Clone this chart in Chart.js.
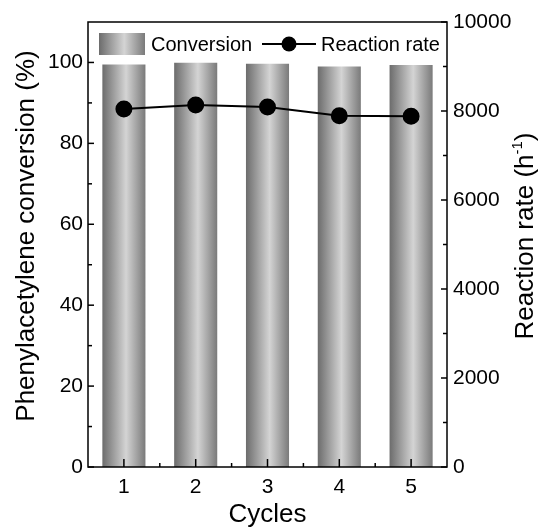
<!DOCTYPE html>
<html>
<head>
<meta charset="utf-8">
<script src="https://cdn.jsdelivr.net/npm/chart.js@4.4.0/dist/chart.umd.min.js"></script>
<style>
html, body { margin: 0; padding: 0; background: #fff; }
#wrap { width: 541px; height: 530px; }
</style>
</head>
<body>
<div id="wrap"><canvas id="chart" width="541" height="530"></canvas></div>
<script>
// ==================== DATA ====================

const cycles = ['1', '2', '3', '4', '5'];
const conversion = [99.5, 99.9, 99.7, 99.0, 99.4];
const reactionRate = [8045, 8135, 8090, 7895, 7880];
const leftTicks = [0, 20, 40, 60, 80, 100];
const rightTicks = [0, 2000, 4000, 6000, 8000, 10000];

const FONT = '"Liberation Sans", Arial, sans-serif';
const TICK_SIZE = 21;
const LEGEND_SIZE = 20;
const TITLE_SIZE = 26;

// ==================== HELPERS ====================

function makeGradient(ctx, x0, x1) {
    const g = ctx.createLinearGradient(x0, 0, x1, 0);
    g.addColorStop(0, '#6c6c6c');
    g.addColorStop(0.55, '#d4d4d4');
    g.addColorStop(1, '#7a7a7a');
    return g;
}

function barGradient(context) {
    const chart = context.chart;
    const xs = chart.scales.x;
    if (!xs || context.dataIndex === undefined) return '#a8a8a8';
    const cx = xs.getPixelForValue(context.dataIndex);
    const w = (xs.right - xs.left) / cycles.length * 0.6;
    if (!isFinite(cx) || !isFinite(w) || w <= 0) return '#a8a8a8';
    return makeGradient(chart.ctx, cx - w / 2, cx + w / 2);
}

function seg(ctx, x1, y1, x2, y2) {
    ctx.beginPath();
    ctx.moveTo(x1, y1);
    ctx.lineTo(x2, y2);
    ctx.stroke();
}

// frame + inward tick marks
const frameAndTicks = {
    id: 'frameAndTicks',
    afterDatasetsDraw(chart) {
        const { ctx, chartArea: a, scales } = chart;
        ctx.save();
        ctx.strokeStyle = '#000';
        ctx.lineWidth = 1.5;
        ctx.strokeRect(a.left, a.top, a.right - a.left, a.bottom - a.top);

        // left axis
        leftTicks.forEach((v, i) => {
            const y = scales.y.getPixelForValue(v);
            seg(ctx, a.left, y, a.left + 6, y);
            if (i < leftTicks.length - 1) {
                const ym = scales.y.getPixelForValue((v + leftTicks[i + 1]) / 2);
                seg(ctx, a.left, ym, a.left + 4, ym);
            }
        });

        // right axis
        rightTicks.forEach((v, i) => {
            const y = scales.y2.getPixelForValue(v);
            seg(ctx, a.right - 6, y, a.right, y);
            if (i < rightTicks.length - 1) {
                const ym = scales.y2.getPixelForValue((v + rightTicks[i + 1]) / 2);
                seg(ctx, a.right - 4, ym, a.right, ym);
            }
        });

        // bottom axis
        const step = (a.right - a.left) / cycles.length;
        cycles.forEach((c, i) => {
            const x = scales.x.getPixelForValue(i);
            seg(ctx, x, a.bottom, x, a.bottom - 8);
            if (i < cycles.length - 1) {
                seg(ctx, x + step / 2, a.bottom, x + step / 2, a.bottom - 4);
            }
        });
        ctx.restore();
    }
};

// legend + y axis titles
const customText = {
    id: 'customText',
    afterDraw(chart) {
        const { ctx } = chart;
        ctx.save();

        // legend: gradient swatch
        const sx = 99, sy = 33, sw = 46, sh = 22;
        ctx.fillStyle = makeGradient(ctx, sx, sx + sw);
        ctx.fillRect(sx, sy, sw, sh);

        ctx.fillStyle = '#000';
        ctx.font = LEGEND_SIZE + 'px ' + FONT;
        ctx.textBaseline = 'middle';
        ctx.textAlign = 'left';
        ctx.fillText('Conversion', 151, 45);

        // legend: line + marker
        ctx.strokeStyle = '#000';
        ctx.lineWidth = 2;
        seg(ctx, 262, 44, 316, 44);
        ctx.beginPath();
        ctx.arc(289, 44, 7.5, 0, Math.PI * 2);
        ctx.fill();
        ctx.fillText('Reaction rate', 321, 45);
        ctx.restore();

        // left axis title
        ctx.save();
        ctx.translate(27, 236);
        ctx.rotate(-Math.PI / 2);
        ctx.fillStyle = '#000';
        ctx.font = TITLE_SIZE + 'px ' + FONT;
        ctx.textAlign = 'center';
        ctx.textBaseline = 'middle';
        ctx.fillText('Phenylacetylene conversion (%)', 0, 0);
        ctx.restore();

        // right axis title (reads bottom to top)
        ctx.save();
        ctx.translate(524, 236);
        ctx.rotate(-Math.PI / 2);
        ctx.fillStyle = '#000';
        const main = 'Reaction rate (h';
        const sup = '-1';
        const tail = ')';
        ctx.font = TITLE_SIZE + 'px ' + FONT;
        const wMain = ctx.measureText(main).width;
        const wTail = ctx.measureText(tail).width;
        ctx.font = '15px ' + FONT;
        const wSup = ctx.measureText(sup).width;
        let x = -(wMain + wSup + wTail) / 2;
        ctx.textAlign = 'left';
        ctx.textBaseline = 'alphabetic';
        ctx.font = TITLE_SIZE + 'px ' + FONT;
        ctx.fillText(main, x, 9);
        x += wMain;
        ctx.font = '15px ' + FONT;
        ctx.fillText(sup, x, -2);
        x += wSup;
        ctx.font = TITLE_SIZE + 'px ' + FONT;
        ctx.fillText(tail, x, 9);
        ctx.restore();
    }
};

// ==================== CHART ====================

const chartCtx = document.getElementById('chart').getContext('2d');
new Chart(chartCtx, {
    data: {
        labels: cycles,
        datasets: [
            {
                type: 'line',
                label: 'Reaction rate',
                data: reactionRate,
                yAxisID: 'y2',
                borderColor: '#000',
                backgroundColor: '#000',
                borderWidth: 2,
                pointRadius: 7.5,
                pointBackgroundColor: '#000',
                tension: 0,
                order: 0
            },
            {
                type: 'bar',
                label: 'Conversion',
                data: conversion,
                yAxisID: 'y',
                backgroundColor: barGradient,
                borderWidth: 0,
                barPercentage: 0.6,
                categoryPercentage: 1.0,
                order: 1
            }
        ]
    },
    options: {
        responsive: false,
        animation: false,
        layout: { padding: { top: 22, left: 0, right: 0, bottom: 0 } },
        plugins: {
            legend: { display: false },
            tooltip: { enabled: false }
        },
        scales: {
            x: {
                type: 'category',
                offset: true,
                grid: { display: false, drawTicks: false },
                border: { display: false },
                ticks: { color: '#000', font: { family: FONT, size: TICK_SIZE }, padding: 8 },
                title: {
                    display: true,
                    text: 'Cycles',
                    color: '#000',
                    font: { family: FONT, size: TITLE_SIZE },
                    padding: { top: 0, bottom: 0 }
                },
                afterFit: (s) => { s.height = 63; }
            },
            y: {
                position: 'left',
                min: 0,
                max: 110,
                afterBuildTicks: (s) => { s.ticks = leftTicks.map(v => ({ value: v })); },
                grid: { display: false, drawTicks: false },
                border: { display: false },
                ticks: {
                    color: '#000',
                    font: { family: FONT, size: TICK_SIZE },
                    padding: 5,
                    callback: (v) => String(v)
                },
                afterFit: (s) => { s.width = 88; }
            },
            y2: {
                position: 'right',
                min: 0,
                max: 10000,
                afterBuildTicks: (s) => { s.ticks = rightTicks.map(v => ({ value: v })); },
                grid: { display: false, drawTicks: false },
                border: { display: false },
                ticks: {
                    color: '#000',
                    font: { family: FONT, size: TICK_SIZE },
                    padding: 6,
                    callback: (v) => String(v)
                },
                afterFit: (s) => { s.width = 94; }
            }
        }
    },
    plugins: [frameAndTicks, customText]
});
</script>
</body>
</html>
